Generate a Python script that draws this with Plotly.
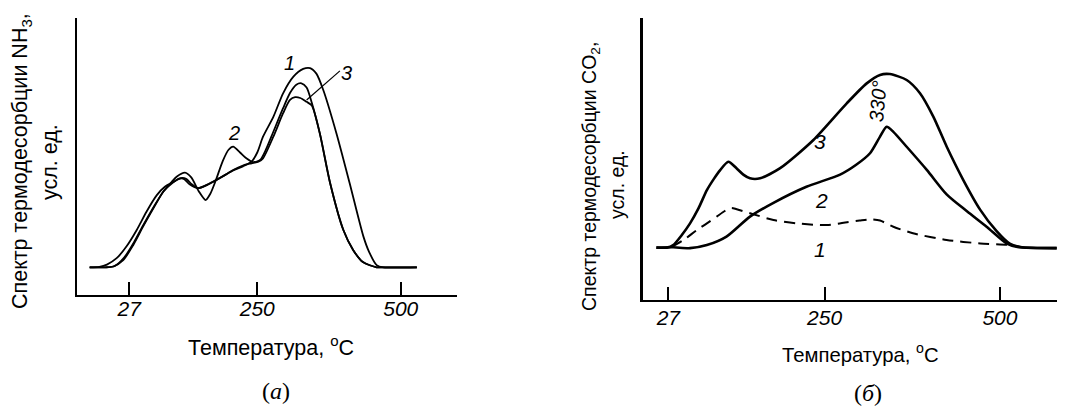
import plotly.graph_objects as go

W, H = 1065, 407
OFF = 8  # default page body margin of the html page

# ---------------- data: panel (a) NH3 ----------------
tick_vals = [27, 250, 500]
tick_text = ["27", "250", "500"]

a1_T = [-42, -25, -12, 5, 22, 40, 57, 75, 89, 104, 116, 126, 136, 147, 163, 179, 195, 208, 225, 240,
        250, 260, 278, 295, 313, 330, 342, 353, 365, 388, 411, 435, 445, 458, 470, 528]
a1_V = [1.0, 1.02, 1.1, 1.33, 1.75, 2.35, 3.01, 3.61, 3.91, 4.09, 4.22, 4.2, 4.0, 3.86, 3.98, 4.16, 4.35, 4.5, 4.65, 4.82,
        5.15, 5.72, 6.44, 7.29, 7.89, 8.17, 8.2, 8.0, 7.41, 5.84, 4.04, 2.11, 1.55, 1.08, 1.0, 1.0]

a2_T = [-42, -15, -1, 16.5, 34, 51, 69, 86, 101, 110, 124, 135, 148, 160, 168, 177, 190, 200, 208, 220, 231, 243,
        255, 265, 278, 295, 307, 318, 327, 336, 345, 359, 377, 400, 417, 434, 458, 470, 528]
a2_V = [1.0, 1.0, 1.03, 1.26, 1.81, 2.47, 3.13, 3.73, 4.09, 4.28, 4.42, 4.25, 3.75, 3.43, 3.65, 4.1, 4.85, 5.25, 5.36, 5.15, 4.94, 4.8,
        4.88, 5.25, 5.9, 6.75, 7.3, 7.6, 7.65, 7.5, 6.95, 5.84, 4.04, 2.35, 1.63, 1.19, 1.0, 1.0, 1.0]

a3_T = [-42, -15, 2, 18, 35, 52, 70, 87, 102, 114, 122, 132, 147, 162, 179, 195, 208, 225, 240, 252,
        260, 278, 295, 307, 316, 325, 336, 345, 359, 377, 400, 417, 434, 458, 470, 528]
a3_V = [1.0, 1.0, 1.05, 1.35, 1.9, 2.55, 3.2, 3.75, 4.05, 4.2, 4.2, 4.0, 3.86, 3.98, 4.16, 4.35, 4.52, 4.68, 4.76, 4.82,
        4.94, 5.72, 6.57, 7.05, 7.15, 7.12, 6.98, 6.85, 5.84, 4.04, 2.35, 1.63, 1.19, 1.0, 1.0, 1.0]

# ---------------- data: panel (б) CO2 ----------------
b3_T = [10, 25, 34, 46, 58, 70, 82, 92, 101, 112.6, 124.6, 134, 143.5, 158, 186, 234, 281.5, 310, 329, 343,
        367, 386, 405, 424, 448, 472, 495, 514, 529, 581]
b3_V = [1.86, 1.86, 1.95, 2.3, 2.72, 3.25, 3.9, 4.3, 4.61, 4.91, 4.67, 4.45, 4.32, 4.32, 4.67, 5.68, 6.98, 7.69, 7.99, 8.02,
        7.81, 7.34, 6.51, 5.45, 4.25, 3.2, 2.45, 2.0, 1.88, 1.84]

b2_T = [10, 34, 58, 82, 110, 143.5, 177, 224, 272, 295, 314.7, 329, 338.5, 348, 367, 396, 424, 453, 481, 510, 525, 581]
b2_V = [1.86, 1.87, 1.84, 1.95, 2.25, 2.96, 3.45, 4.02, 4.45, 4.8, 5.21, 5.8, 6.15, 5.97, 5.44, 4.61, 3.75, 3.15, 2.6, 2.0, 1.88, 1.84]

b1_T = [32, 50, 67.5, 82, 96, 107, 117, 124.6, 143.5, 177, 210, 253, 282, 300, 315, 329, 348, 376, 424, 472, 514, 530]
b1_V = [1.88, 2.15, 2.48, 2.72, 2.96, 3.15, 3.27, 3.22, 3.08, 2.84, 2.72, 2.66, 2.76, 2.82, 2.86, 2.82, 2.6, 2.37, 2.13, 2.01, 1.95, 1.88]

# ---------------- figure ----------------
fig = go.Figure()
sm = 0.7
for T, V in [(a1_T, a1_V), (a2_T, a2_V), (a3_T, a3_V)]:
    fig.add_trace(go.Scatter(x=T, y=V, mode="lines", xaxis="x", yaxis="y",
                             line=dict(color="black", width=1.8, shape="spline", smoothing=sm),
                             hoverinfo="skip", showlegend=False))
for T, V in [(b3_T, b3_V), (b2_T, b2_V)]:
    fig.add_trace(go.Scatter(x=T, y=V, mode="lines", xaxis="x2", yaxis="y2",
                             line=dict(color="black", width=2.6, shape="spline", smoothing=sm),
                             hoverinfo="skip", showlegend=False))
fig.add_trace(go.Scatter(x=b1_T, y=b1_V, mode="lines", xaxis="x2", yaxis="y2",
                         line=dict(color="black", width=2.0, shape="spline", smoothing=sm, dash="11px,7px"),
                         hoverinfo="skip", showlegend=False))

def px_x(p):
    return (p - OFF) / W

def px_y(p):
    return 1 - (p - OFF) / H

narrow = "Liberation Sans Narrow, Liberation Sans, Arial"
tickfont = dict(family=narrow, size=21, color="black", style="italic")
xcommon = dict(tickvals=tick_vals, ticktext=tick_text, ticks="inside", ticklen=13, tickwidth=1.5,
               tickcolor="black", showgrid=False, zeroline=False, showline=True, linecolor="black",
               tickfont=tickfont)
ycommon = dict(range=[0, 10], showgrid=False, zeroline=False, showline=True, linecolor="black",
               showticklabels=False, ticks="")

fig.update_layout(
    width=W, height=H, margin=dict(l=0, r=0, t=0, b=0),
    paper_bgcolor="white", plot_bgcolor="white",
    xaxis=dict(domain=[px_x(76.7), px_x(457)], range=[-64.6, 598], linewidth=2, anchor="y",
               ticklabelstandoff=-6, **xcommon),
    yaxis=dict(domain=[px_y(295), px_y(18.3)], linewidth=2, anchor="x", **ycommon),
    xaxis2=dict(domain=[px_x(643), px_x(1063)], range=[-9.1, 590], linewidth=1.5, anchor="y2",
                ticklabelstandoff=-2, **xcommon),
    yaxis2=dict(domain=[px_y(300), px_y(18.3)], linewidth=2.5, anchor="x2", **ycommon),
)

sans = "Liberation Sans, Arial"
serif = "Liberation Serif, Times New Roman"
ann = []
def add_text(text, x, y, size, family=sans, angle=0, style="normal", xref="paper", yref="paper"):
    ann.append(dict(text=text, x=x, y=y, xref=xref, yref=yref, showarrow=False, textangle=angle,
                    xanchor="center", yanchor="middle",
                    font=dict(family=family, size=size, color="black", style=style)))

# axis titles
add_text("Температура, <sup>o</sup>C", px_x(271), px_y(346), 21.5)
add_text("Температура, <sup>o</sup>C", px_x(860), px_y(353), 20.3)
add_text("Спектр термодесорбции NH<sub>3</sub>,", px_x(21), px_y(161), 21.5, angle=-90)
add_text("усл. ед.", px_x(50), px_y(162), 21.5, angle=-90)
add_text("Спектр термодесорбции CO<sub>2</sub>,", px_x(591), px_y(177), 19.5, angle=-90)
add_text("усл. ед.", px_x(617), px_y(185), 19.5, angle=-90)
# panel captions
add_text("(<i>а</i>)", px_x(276), px_y(391), 24, family=serif)
add_text("(<i>б</i>)", px_x(868), px_y(393), 24, family=serif)

# curve labels
add_text("1", 307, 8.38, 20, family=narrow, style="italic", xref="x", yref="y")
add_text("2", 209, 5.84, 20, family=narrow, style="italic", xref="x", yref="y")
add_text("3", 406, 8.01, 20, family=narrow, style="italic", xref="x", yref="y")
add_text("3", 243, 5.62, 21, family=narrow, style="italic", xref="x2", yref="y2")
add_text("2", 246, 3.55, 21, family=narrow, style="italic", xref="x2", yref="y2")
add_text("1", 243, 1.78, 21, family=narrow, style="italic", xref="x2", yref="y2")
add_text("330°", 326, 7.06, 20, family=narrow, style="italic", angle=-85, xref="x2", yref="y2")
fig.update_layout(annotations=ann)

# leader line for label 3 in panel (a)
fig.add_shape(type="line", xref="x", yref="y", x0=394, y0=8.1, x1=336, y1=7.05,
              line=dict(color="black", width=1.2))

fig.write_html("out.html")
